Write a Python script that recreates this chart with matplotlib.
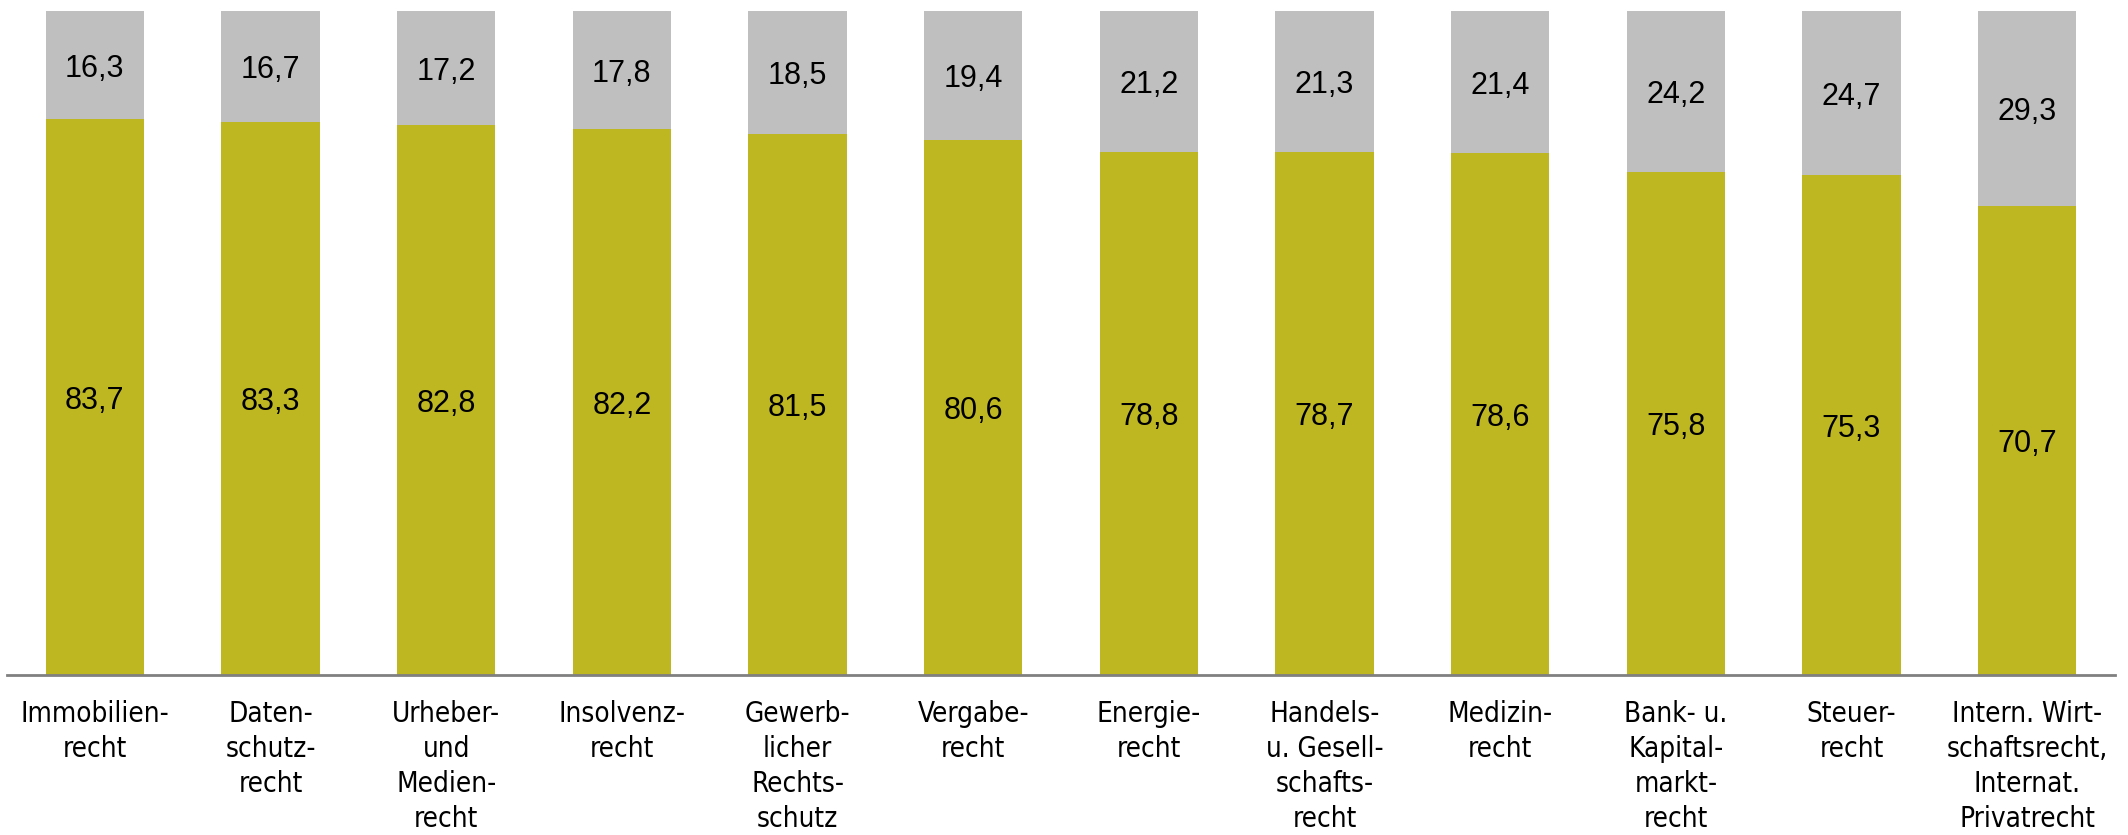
import numpy as np
import matplotlib
matplotlib.use('Agg')
import matplotlib.pyplot as plt

categories = ['Immobilien-\nrecht', 'Daten-\nschutz-\nrecht', 'Urheber-\nund\nMedien-\nrecht',
              'Insolvenz-\nrecht', 'Gewerb-\nlicher\nRechts-\nschutz', 'Vergabe-\nrecht',
              'Energie-\nrecht', 'Handels-\nu. Gesell-\nschafts-\nrecht', 'Medizin-\nrecht',
              'Bank- u.\nKapital-\nmarkt-\nrecht', 'Steuer-\nrecht',
              'Intern. Wirt-\nschaftsrecht,\nInternat.\nPrivatrecht']
lower = [83.7, 83.3, 82.8, 82.2, 81.5, 80.6, 78.8, 78.7, 78.6, 75.8, 75.3, 70.7]
upper = [16.3, 16.7, 17.2, 17.8, 18.5, 19.4, 21.2, 21.3, 21.4, 24.2, 24.7, 29.3]

green = '#BEB722'
grey = '#BFBFBF'

fig = plt.figure(figsize=(21.28, 8.35), dpi=100)
ax = fig.add_axes([7 / 2128, 160 / 835, 2108 / 2128, 664 / 835])

x = np.arange(len(categories))
w = 0.56
ax.bar(x, lower, width=w, color=green, linewidth=0)
ax.bar(x, upper, width=w, bottom=lower, color=grey, linewidth=0)

for xi, lo, up in zip(x, lower, upper):
    ax.text(xi, lo / 2, f'{lo:.1f}'.replace('.', ','), ha='center', va='center_baseline',
            fontsize=22, family='Liberation Sans', color='black')
    ax.text(xi, lo + up / 2, f'{up:.1f}'.replace('.', ','), ha='center', va='center_baseline',
            fontsize=22, family='Liberation Sans', color='black')

ax.set_xlim(-0.5, len(categories) - 0.5)
ax.set_ylim(0, 100)
ax.set_xticks(x)
labels = ax.set_xticklabels(categories, fontsize=20, family='DejaVu Sans',
                            linespacing=1.32, va='top')
for t in labels:
    t.set_fontstretch('condensed')
ax.tick_params(axis='x', length=0, pad=18)
ax.set_yticks([])
for s in ['top', 'left', 'right']:
    ax.spines[s].set_visible(False)
ax.spines['bottom'].set_color('#808080')
ax.spines['bottom'].set_linewidth(2)

fig.savefig('out.png', dpi=100)
